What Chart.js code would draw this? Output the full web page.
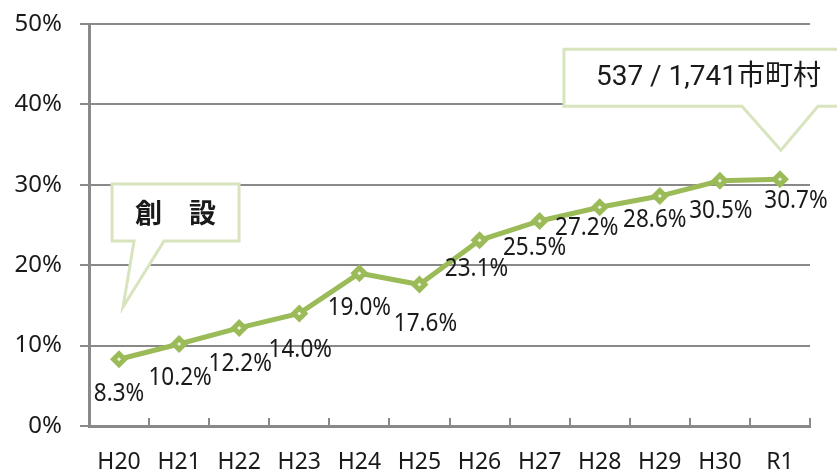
<!DOCTYPE html>
<html>
<head>
<meta charset="utf-8">
<script src="https://cdn.jsdelivr.net/npm/chart.js@4"></script>
<style>
  html, body { margin: 0; padding: 0; background: #fff; }
  #wrap { width: 837px; height: 471px; }
</style>
</head>
<body>
<div id="wrap"><canvas id="rateChart" width="837" height="471"></canvas></div>
<script>
// data
const years = ['H20', 'H21', 'H22', 'H23', 'H24', 'H25', 'H26', 'H27', 'H28', 'H29', 'H30', 'R1'];
const rates = [8.3, 10.2, 12.2, 14.0, 19.0, 17.6, 23.1, 25.5, 27.2, 28.6, 30.5, 30.7];
const yMax = 50;
const yStep = 10;
const calloutTexts = ['創　設', '537 / 1,741市町村'];

const green = '#9bbb59';
const axisGrey = '#898989';

// value labels under each point
const lineLabels = {
    id: 'lineLabels',
    afterDatasetsDraw(chart, args, opts) {
        const ctx = chart.ctx;
        const meta = chart.getDatasetMeta(0);
        ctx.save();
        ctx.fillStyle = '#1a1a1a';
        ctx.font = '25px "Noto Sans", sans-serif';
        ctx.textAlign = 'center';
        ctx.textBaseline = 'middle';
        meta.data.forEach((pt, i) => {
            const s = opts.shift[i];
            ctx.save();
            ctx.translate(pt.x + s[0], pt.y + s[1]);
            ctx.scale(0.9, 1);
            ctx.fillText(rates[i].toFixed(1) + '%', 0, 0);
            ctx.restore();
        });
        ctx.restore();
    }
};

// small inward ticks between categories on the x axis
const catTicks = {
    id: 'catTicks',
    afterDraw(chart) {
        const { ctx, scales: { x } } = chart;
        const step = x.width / years.length;
        ctx.save();
        ctx.strokeStyle = axisGrey;
        ctx.lineWidth = 2;
        for (let i = 1; i <= years.length; i++) {
            const px = Math.round(x.left + i * step);
            ctx.beginPath();
            ctx.moveTo(px, x.top);
            ctx.lineTo(px, x.top - 8);
            ctx.stroke();
        }
        ctx.restore();
    }
};

// speech bubbles
const callouts = {
    id: 'callouts',
    afterDraw(chart, args, opts) {
        const { ctx, scales: { x, y } } = chart;
        opts.items.forEach(c => {
            const tx = x.getPixelForValue(c.at[0]) + c.nudge;
            const ty = y.getPixelForValue(c.at[1]);
            const l = tx + c.box[0], t = ty + c.box[1];
            const r = l + c.box[2], b = t + c.box[3];
            ctx.save();
            ctx.beginPath();
            ctx.moveTo(l, t);
            ctx.lineTo(r, t);
            ctx.lineTo(r, b);
            ctx.lineTo(tx + c.tail[1], b);
            ctx.lineTo(tx, ty);
            ctx.lineTo(tx + c.tail[0], b);
            ctx.lineTo(l, b);
            ctx.closePath();
            ctx.fillStyle = '#fff';
            ctx.fill();
            ctx.strokeStyle = '#d7e4bd';
            ctx.lineWidth = 3;
            ctx.stroke();
            ctx.fillStyle = '#1a1a1a';
            ctx.font = c.font;
            ctx.textBaseline = 'middle';
            if (c.align === 'center') {
                ctx.textAlign = 'center';
                ctx.fillText(c.text, (l + r) / 2, (t + b) / 2);
            } else {
                ctx.textAlign = 'left';
                ctx.fillText(c.text, l + c.textLeft, (t + b) / 2);
            }
            ctx.restore();
        });
    }
};

const ctx = document.getElementById('rateChart').getContext('2d');
new Chart(ctx, {
    type: 'line',
    data: {
        labels: years,
        datasets: [{
            data: rates,
            borderColor: green,
            borderWidth: 5,
            tension: 0,
            pointStyle: 'rectRot',
            pointRadius: 5.5,
            pointBorderWidth: 5,
            pointBorderColor: green,
            pointBackgroundColor: '#eef3e3'
        }]
    },
    options: {
        responsive: false,
        animation: false,
        devicePixelRatio: 1,
        layout: { autoPadding: false, padding: { left: 0, right: 27, top: 24, bottom: 0 } },
        plugins: {
            legend: { display: false },
            tooltip: { enabled: false },
            lineLabels: {
                shift: [[0, 35], [1, 34], [1, 36], [1, 36], [0, 35], [6, 39],
                        [-3, 29], [-5, 27], [-13, 21], [-5, 24], [1, 30], [16, 22]]
            },
            callouts: {
                items: [
                    { text: calloutTexts[0], at: [0, 14.8], nudge: 4, box: [-11, -123, 127, 57], tail: [11, 41],
                      font: 'bold 27px "Noto Sans CJK JP", sans-serif', align: 'center' },
                    { text: calloutTexts[1], at: [11, 34.3], nudge: 1, box: [-217, -101, 290, 57], tail: [-39, 37],
                      font: '28px Roboto, "Noto Sans CJK JP", sans-serif', align: 'left', textLeft: 32 }
                ]
            }
        },
        scales: {
            x: {
                offset: true,
                afterFit: (s) => { s.height = 45; },
                grid: { display: false },
                border: { display: true, color: axisGrey, width: 3 },
                ticks: {
                    color: '#1a1a1a',
                    padding: 15,
                    maxRotation: 0,
                    font: { family: '"Noto Sans", sans-serif', size: 23 }
                }
            },
            y: {
                min: 0,
                max: yMax,
                afterFit: (s) => { s.width = 89; s.paddingTop = 0; s.paddingBottom = 0; },
                grid: { color: axisGrey, lineWidth: 2, tickLength: 9, drawTicks: true },
                border: { display: true, color: axisGrey, width: 3 },
                ticks: {
                    stepSize: yStep,
                    color: '#1a1a1a',
                    padding: 18,
                    font: { family: '"Noto Sans", sans-serif', size: 24 },
                    callback: (v) => v + '%'
                }
            }
        }
    },
    plugins: [lineLabels, catTicks, callouts]
});
</script>
</body>
</html>
